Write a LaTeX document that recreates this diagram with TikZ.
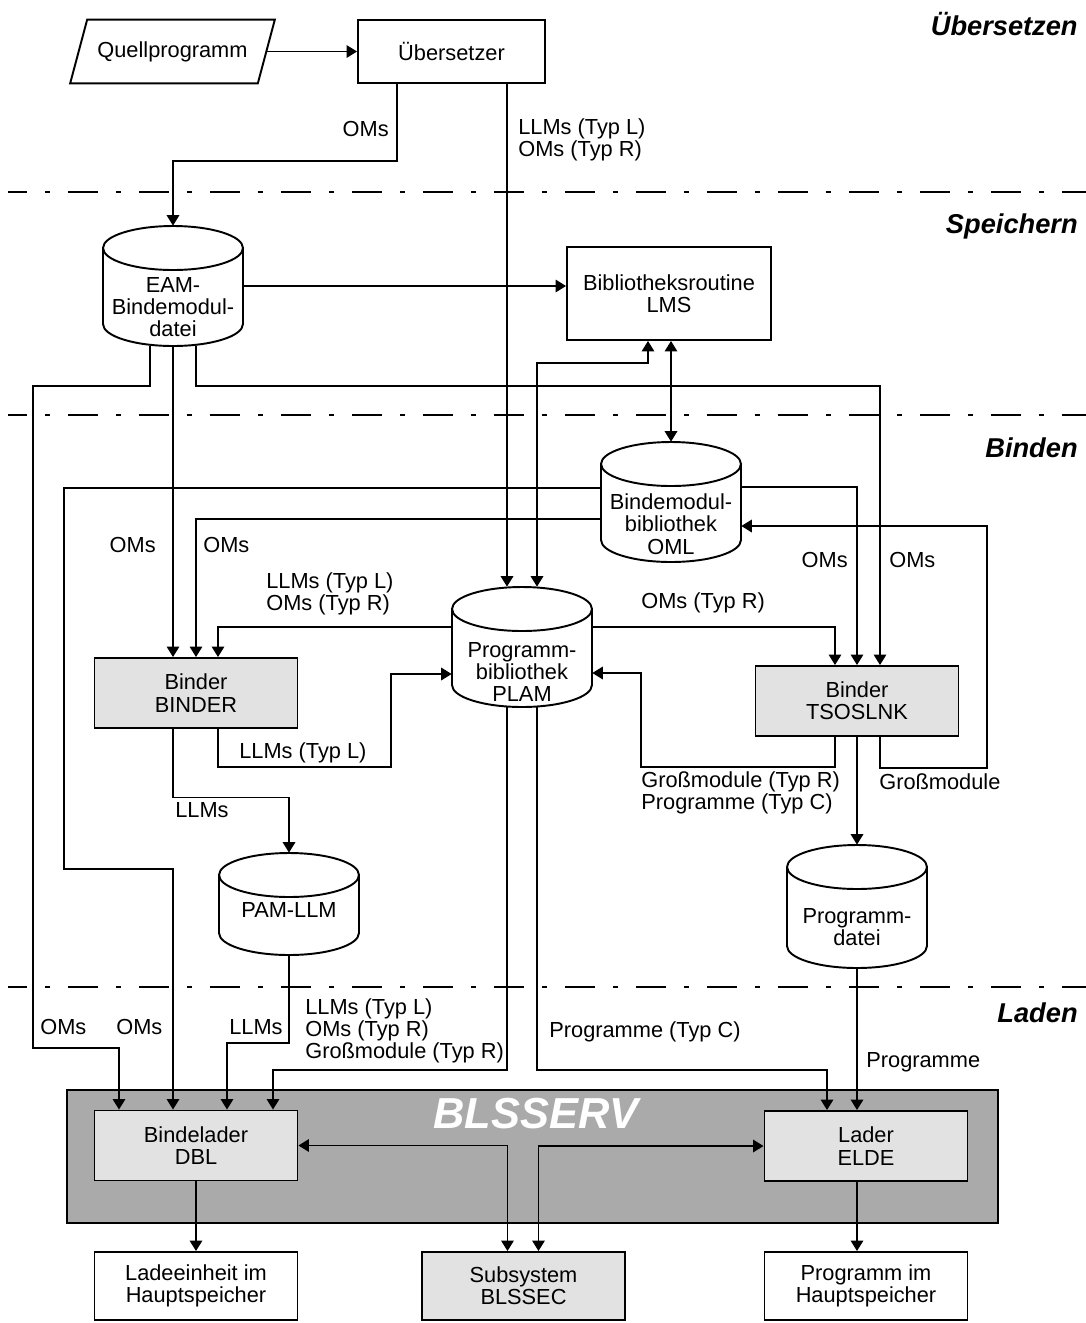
\documentclass[tikz,border=0pt]{standalone}
\usepackage{fontspec}
\setmainfont{Liberation Sans}
\usepackage{tikz}
\usetikzlibrary{positioning, calc, arrows.meta}
\newcommand{\labelFont}{\fontsize{12.4}{12.7}\selectfont}
\newcommand{\phaseFont}{\fontsize{15.5}{16}\selectfont\bfseries\itshape}
\newcommand{\serverFont}{\fontsize{24.7}{25}\selectfont\bfseries\itshape}
\definecolor{binderGray}{RGB}{226,226,226}
\definecolor{serverGray}{RGB}{170,170,170}
\tikzstyle{plan} = [x = 0.02cm, y = -0.02cm, >={Triangle[length=2.1mm, width=2.5mm]}]
\tikzstyle{boxStyle} = [draw=black, fill=white, line width=1.1pt, align=center, font=\labelFont, inner sep=0pt, minimum width=4.06cm, minimum height=1.4cm]
\tikzstyle{grayBoxStyle} = [boxStyle, fill=binderGray]
\tikzstyle{serverStyle} = [draw=black, fill=serverGray, line width=1.2pt, inner sep=0pt, minimum width=18.62cm, minimum height=2.66cm]
\tikzstyle{serverText} = [font=\serverFont, text=white, inner sep=0pt]
\tikzstyle{boxLine} = [draw=black, line width=1.1pt]
\tikzstyle{flowLine} = [line width=1pt, ->]
\tikzstyle{flowBoth} = [line width=1pt, <->]
\tikzstyle{flowText} = [font=\labelFont, align=left, inner sep=0pt]
\tikzstyle{phaseLine} = [line width=1.1pt, dash pattern=on 0.6cm off 0.36cm on 0.1cm off 0.36cm, dash phase=0.22cm]
\tikzstyle{phaseText} = [font=\phaseFont, anchor=east, inner sep=0pt]
\tikzstyle{cylinderStyle} = [draw=black, fill=white, line width=1.1pt]
\tikzstyle{storeFrame} = [minimum width=2.8cm, inner sep=0pt]
\tikzstyle{storeText} = [font=\labelFont, align=center, inner sep=0pt]
\newcommand{\storeCylinder}[6]{
  \filldraw [cylinderStyle] (#2 - 70, #3 + 22) -- (#2 - 70, #3 + #4 - 22) arc [start angle = 180, end angle = 360, x radius = 1.4cm, y radius = 0.44cm] -- (#2 + 70, #3 + 22);
  \draw [cylinderStyle] (#2, #3 + 22) ellipse [x radius = 1.4cm, y radius = 0.44cm];
  \node [storeFrame, minimum height = #4 * 0.02cm] (#1) at (#2, #3 + #4 / 2) {};
  \node [storeText] (#1Text) at (#2, #5) {#6};
}
\begin{document}
\begin{tikzpicture}[plan]
  \useasboundingbox (0, 0) rectangle (1086, 1323);

  % phases
  \foreach \lineY in {192, 415, 987} {
    \draw [phaseLine] (8, \lineY) -- (1086, \lineY);
  }
  \node [phaseText] (phaseCompile) at (1078, 24) {Übersetzen};
  \node [phaseText] (phaseStore) at (1078, 226) {Speichern};
  \node [phaseText] (phaseBind) at (1078, 448) {Binden};
  \node [phaseText] (phaseLoad) at (1078, 1013) {Laden};

  % boxes
  \node [flowText, align=center, minimum width=3.74cm, minimum height=1.26cm] (quelle) at (172.5, 51.5) {Quellprogramm};
  \draw [boxLine] ($(quelle.north west) + (8.5, 0)$) -- ($(quelle.north east) + (8.5, 0)$) -- ($(quelle.south east) + (-8.5, 0)$) -- ($(quelle.south west) + (-8.5, 0)$) -- cycle;
  \node [boxStyle, minimum width=3.74cm, minimum height=1.26cm] (uebersetzer) at (451.5, 51.5) {Übersetzer};
  \node [boxStyle, minimum width=4.08cm, minimum height=1.86cm] (lms) at (669, 293.5) {Bibliotheksroutine\\LMS};
  \node [grayBoxStyle] (binder) at (196, 693) {Binder\\BINDER};
  \node [grayBoxStyle] (tsoslnk) at (857, 701) {Binder\\TSOSLNK};
  \node [serverStyle] (blsserv) at (532.5, 1156.5) {};
  \node [serverText] (blsservTitle) at (536, 1114) {BLSSERV};
  \node [grayBoxStyle] (dbl) at (196, 1145.5) {Bindelader\\DBL};
  \node [grayBoxStyle] (elde) at (866, 1146) {Lader\\ELDE};
  \node [grayBoxStyle, minimum height=1.36cm] (blssec) at (523.5, 1286) {Subsystem\\BLSSEC};
  \node [boxStyle, minimum height=1.36cm] (ladeeinheit) at (196, 1286) {Ladeeinheit im\\Hauptspeicher};
  \node [boxStyle, minimum height=1.36cm] (programmHs) at (866, 1286) {Programm im\\Hauptspeicher};

  \storeCylinder{eam}{173}{226}{120}{307}{EAM-\\Bindemodul-\\datei}
  \storeCylinder{oml}{671}{442}{120}{524}{Bindemodul-\\bibliothek\\OML}
  \storeCylinder{plam}{522}{587}{120}{672}{Programm-\\bibliothek\\PLAM}
  \storeCylinder{pamllm}{289}{853}{102}{910}{PAM-LLM}
  \storeCylinder{progdatei}{857}{845}{123}{927}{Programm-\\datei}

  % Uebersetzen
  \draw [flowLine] (quelle.east) -- (quelle.east -| uebersetzer.west);
  \draw [flowLine] ($(uebersetzer.south west) + (40, 0)$) -- ++(0, 77) -| (eam.north);
  \node [flowText, anchor=east] (omsCompile) at (389, 129) {OMs};
  \draw [flowLine] ($(uebersetzer.south) + (55.5, 0)$) -- ($(plam.north) + (-15, 0)$);
  \node [flowText, anchor=west] (typesCompile) at (518, 140) {LLMs (Typ L)\\OMs (Typ R)};

  % Speichern
  \draw [flowLine] (eam.east) -- (eam.east -| lms.west);
  \draw [flowLine] ($(eam.south) + (-23, 0)$) -- ++(0, 40) -| (33, 1048) -| ($(dbl.north) + (-77, 0)$);
  \node [flowText, anchor=west] (omsEamDbl) at (40, 1027) {OMs};
  \draw [flowLine] (eam.south) -- (eam.south |- binder.north);
  \node [flowText, anchor=east] (omsEamBinder) at (156, 545) {OMs};
  \draw [flowLine] ($(eam.south) + (23, 0)$) -- ++(0, 40) -| ($(tsoslnk.north) + (23, 0)$);
  \node [flowText, anchor=west] (omsEamTso) at (889, 560) {OMs};
  \draw [flowBoth] ($(lms.south) + (-21, 0)$) -- ++(0, 22) -| ($(plam.north) + (15, 0)$);
  \draw [flowBoth] (oml.north |- lms.south) -- (oml.north);

  % Binden
  \draw [flowLine] ($(oml.west) + (0, -14)$) -| (64, 869) -| ($(dbl.north) + (-23, 0)$);
  \node [flowText, anchor=west] (omsOmlDbl) at (116, 1027) {OMs};
  \draw [flowLine] ($(oml.west) + (0, 17)$) -| (binder.north);
  \node [flowText, anchor=west] (omsOmlBinder) at (203, 545) {OMs};
  \draw [flowLine] ($(oml.east) + (0, -15)$) -| (tsoslnk.north);
  \node [flowText, anchor=east] (omsOmlTso) at (848, 560) {OMs};
  \draw [flowLine] ($(tsoslnk.south) + (23, 0)$) -- ++(0, 31) -| (987, 526) -- ($(oml.east) + (0, 24)$);
  \node [flowText, anchor=west] (grossOml) at (879, 782) {Großmodule};
  \draw [flowLine] ($(plam.west) + (0, -20)$) -| ($(binder.north) + (22, 0)$);
  \node [flowText, anchor=west] (typesPlamBinder) at (266, 594) {LLMs (Typ L)\\OMs (Typ R)};
  \draw [flowLine] ($(binder.south) + (22, 0)$) |- (391, 767) |- ($(plam.west) + (0, 27)$);
  \node [flowText, anchor=west] (llmsBinderPlam) at (239, 753) {LLMs (Typ L)};
  \draw [flowLine] ($(binder.south) + (-23, 0)$) -- ++(0, 68.5) -| (pamllm.north);
  \node [flowText, anchor=west] (llmsBinderPam) at (175, 810) {LLMs};
  \draw [flowLine] ($(plam.east) + (0, -20)$) -| ($(tsoslnk.north) + (-22, 0)$);
  \node [flowText, anchor=west] (omsPlamTso) at (641, 603) {OMs (Typ R)};
  \draw [flowLine] ($(tsoslnk.south) + (-22, 0)$) |- (641, 767) |- ($(plam.east) + (0, 26)$);
  \node [flowText, anchor=west] (grossPlam) at (641, 793) {Großmodule (Typ R)\\Programme (Typ C)};
  \draw [flowLine] (tsoslnk.south) -- (progdatei.north);

  % Laden
  \draw [flowLine] (pamllm.south) -- ++(0, 88) -| ($(dbl.north) + (31, 0)$);
  \node [flowText, anchor=west] (llmsPamDbl) at (229, 1027) {LLMs};
  \draw [flowLine] ($(plam.south) + (-15, 0)$) -- ++(0, 363) -| ($(dbl.north) + (77, 0)$);
  \node [flowText, anchor=west] (typesPlamDbl) at (305, 1031) {LLMs (Typ L)\\OMs (Typ R)\\Großmodule (Typ R)};
  \draw [flowLine] ($(plam.south) + (15, 0)$) -- ++(0, 363) -| ($(elde.north) + (-39, 0)$);
  \node [flowText, anchor=west] (progPlamElde) at (549, 1032) {Programme (Typ C)};
  \draw [flowLine] (progdatei.south) -- (progdatei.south |- elde.north);
  \node [flowText, anchor=west] (progDateiElde) at (866, 1062) {Programme};
  \draw [flowLine] (dbl.south) -- (ladeeinheit.north);
  \draw [flowLine] (progdatei.south |- elde.south) -- (progdatei.south |- programmHs.north);
  \draw [flowBoth] (dbl.east) -| ($(blssec.north) + (-16, 0)$);
  \draw [flowBoth] ($(blssec.north) + (15, 0)$) |- (elde.west);
\end{tikzpicture}
\end{document}
